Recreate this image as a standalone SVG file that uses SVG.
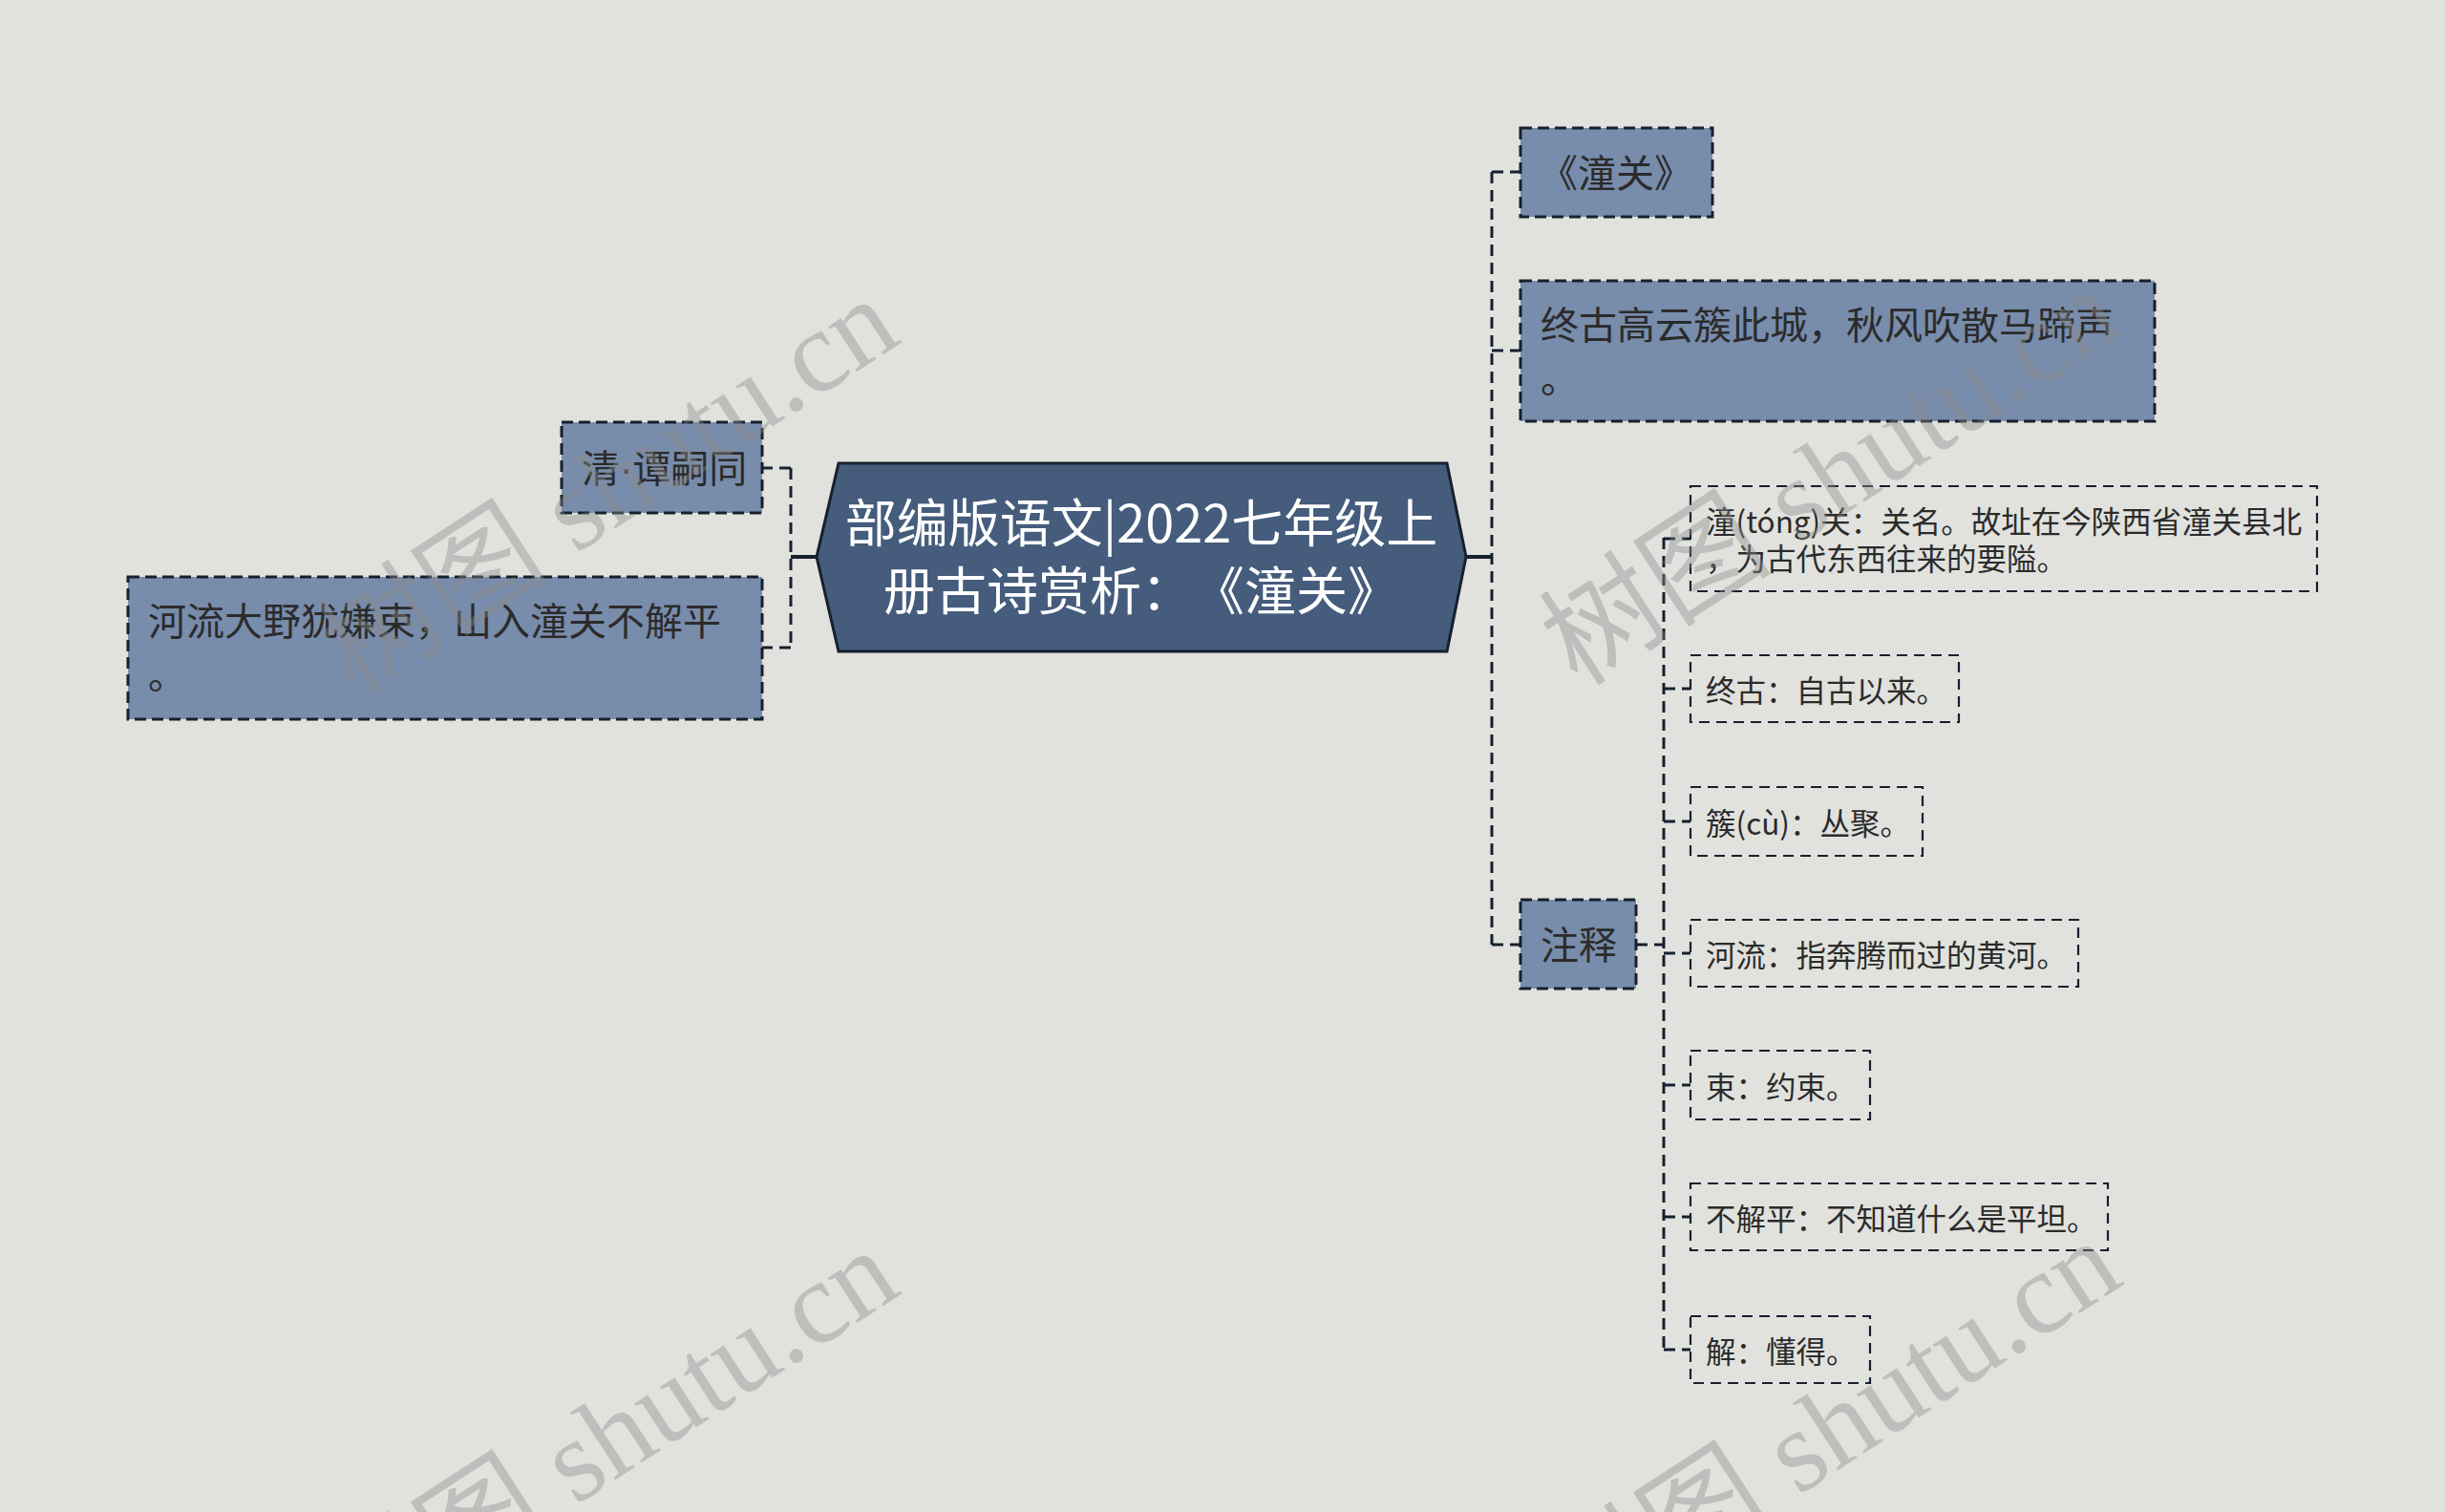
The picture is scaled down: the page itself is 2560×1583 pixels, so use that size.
<svg xmlns="http://www.w3.org/2000/svg" width="2560" height="1583" viewBox="0 0 2560 1583">
<style>
.bg{fill:#E1E2DE}
.n1{fill:#788CAB;stroke:#16202E;stroke-width:3;stroke-dasharray:12 6}
.n2{fill:none;stroke:#16202E;stroke-width:2.2;stroke-dasharray:11 7}
.t{font-family:"Noto Sans CJK SC","Noto Sans",sans-serif;fill:#2B2B2B;text-spacing-trim:space-all}
.t1{font-size:40px}
.t2{font-size:31.5px}
.tc{font-family:"Noto Sans CJK SC","Noto Sans",sans-serif;fill:#FFFFFF;font-size:54px;text-anchor:middle;text-spacing-trim:space-all}
.c{fill:none;stroke:#16202E;stroke-width:3;stroke-dasharray:12 7}
.cs{fill:none;stroke:#16202E;stroke-width:4}
.wm{font-family:"Liberation Serif","Noto Sans CJK SC",serif;font-size:122px;fill:#8C8C8A;opacity:0.4}
.dot{font-family:"Liberation Sans",sans-serif}
</style>
<rect class="bg" x="0" y="0" width="2560" height="1583"/>
<g id="connectors">
<path class="cs" d="M855 583 H828"/>
<path class="c" d="M828 490 V678 M828 490 H798 M828 678 H798"/>
<path class="cs" d="M1535 583 H1562"/>
<path class="c" d="M1562 180 V989 M1562 180 H1592 M1562 367 H1592 M1562 989 H1592"/>
<path class="c" d="M1713 989 H1742 M1742 563 V1413 M1742 564 H1770 M1742 721 H1770 M1742 860 H1770 M1742 998 H1770 M1742 1136 H1770 M1742 1274 H1770 M1742 1413 H1770"/>
</g>
<g id="root">
<polygon points="855,583 878,485 1515,485 1535,583 1515,682 878,682" fill="#455C7C" stroke="#16202E" stroke-width="3"/>
<text class="tc" x="1195" y="568">部编版语文|2022七年级上</text>
<text class="tc" x="1195" y="639">册古诗赏析：《潼关》</text>
</g>
<g id="n-author">
<rect class="n1" x="588" y="442" width="210" height="95"/>
<text class="t t1" x="609" y="505">清<tspan class="dot">·</tspan>谭嗣同</text>
</g>
<g id="n-line2">
<rect class="n1" x="134" y="604" width="664" height="149"/>
<text class="t t1" x="155" y="665">河流大野犹嫌束，山入潼关不解平</text>
<text class="t t1" x="155" y="721">。</text>
</g>
<g id="n-title">
<rect class="n1" x="1592" y="134" width="201" height="93"/>
<text class="t t1" x="1692" y="196" text-anchor="middle">《潼关》</text>
</g>
<g id="n-line1">
<rect class="n1" x="1592" y="294" width="664" height="147"/>
<text class="t t1" x="1613" y="355">终古高云簇此城，秋风吹散马蹄声</text>
<text class="t t1" x="1613" y="411">。</text>
</g>
<g id="n-notes">
<rect class="n1" x="1592" y="942" width="121" height="93"/>
<text class="t t1" x="1613" y="1004">注释</text>
</g>
<g id="c1">
<rect class="n2" x="1770" y="509" width="656" height="110"/>
<text class="t t2" x="1786" y="558">潼(tóng)关：关名。故址在今陕西省潼关县北</text>
<text class="t t2" x="1786" y="597">，为古代东西往来的要隘。</text>
</g>
<g id="c2">
<rect class="n2" x="1770" y="686" width="281" height="70"/>
<text class="t t2" x="1786" y="735">终古：自古以来。</text>
</g>
<g id="c3">
<rect class="n2" x="1770" y="824" width="243" height="72"/>
<text class="t t2" x="1786" y="874">簇(cù)：丛聚。</text>
</g>
<g id="c4">
<rect class="n2" x="1770" y="963" width="406" height="70"/>
<text class="t t2" x="1786" y="1012">河流：指奔腾而过的黄河。</text>
</g>
<g id="c5">
<rect class="n2" x="1770" y="1100" width="188" height="72"/>
<text class="t t2" x="1786" y="1150">束：约束。</text>
</g>
<g id="c6">
<rect class="n2" x="1770" y="1239" width="437" height="70"/>
<text class="t t2" x="1786" y="1288">不解平：不知道什么是平坦。</text>
</g>
<g id="c7">
<rect class="n2" x="1770" y="1378" width="188" height="70"/>
<text class="t t2" x="1786" y="1427">解：懂得。</text>
</g>
<g id="watermarks">
<text class="wm" transform="translate(372,730) rotate(-33)">树图 shutu.cn</text>
<text class="wm" transform="translate(1652,720) rotate(-33)">树图 shutu.cn</text>
<text class="wm" transform="translate(372,1726) rotate(-33)">树图 shutu.cn</text>
<text class="wm" transform="translate(1652,1716) rotate(-33)">树图 shutu.cn</text>
</g>
</svg>
